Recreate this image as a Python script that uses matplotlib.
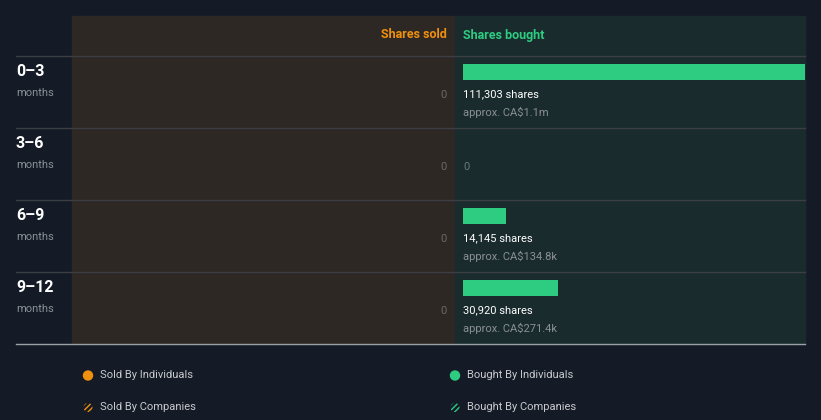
import matplotlib.pyplot as plt
import matplotlib.patches as mpatches

plt.rcParams['font.family'] = ['Roboto', 'DejaVu Sans']

# Insider trading by period
periods = ["0–3", "3–6", "6–9", "9–12"]
shares_sold = [0, 0, 0, 0]
shares_bought = [111303, 0, 14145, 30920]
bought_value = ["approx. CA$1.1m", "", "approx. CA$134.8k", "approx. CA$271.4k"]

bg = '#151b26'
sold_bg = '#2d2823'
bought_bg = '#1a2b2e'
orange = '#f0900f'
green = '#2ecc81'
grey = '#8a8f96'

fig = plt.figure(figsize=(8.21, 4.2), dpi=100, facecolor=bg)

# layout axes in pixel coordinates
base = fig.add_axes([0, 0, 1, 1])
base.set_xlim(0, 821)
base.set_ylim(420, 0)
base.axis('off')
base.set_facecolor(bg)

base.add_patch(mpatches.Rectangle((72, 16), 383, 328, color=sold_bg, zorder=0))
base.add_patch(mpatches.Rectangle((455, 16), 350, 328, color=bought_bg, zorder=0))
base.text(447, 35, "Shares sold", color=orange, fontsize=9, fontweight='bold',
          ha='right', va='center')
base.text(463, 35, "Shares bought", color=green, fontsize=9, fontweight='bold',
          ha='left', va='center')

row_h = 72
top = 56
for i, p in enumerate(periods):
    y0 = top + i * row_h
    base.plot([16, 805], [y0, y0], color='#3b3f44', lw=1, zorder=1)
    base.text(16, y0 + 15.5, p, color='white', fontsize=11.5, fontweight='bold',
              ha='left', va='center')
    base.text(16, y0 + 37, "months", color=grey, fontsize=8, ha='left', va='center')
    base.text(447, y0 + 38.5, str(shares_sold[i]), color='#6b6a66', fontsize=8,
              ha='right', va='center')
base.plot([16, 805], [344, 344], color='#9aa0a6', lw=1, zorder=1)

# legend
base.add_patch(mpatches.Circle((88, 375.5), 4.5, color=orange))
base.text(100, 375.5, "Sold By Individuals", color='#c8cacd', fontsize=8, va='center')
base.add_patch(mpatches.Circle((455, 375.5), 4.5, color=green))
base.text(467, 375.5, "Bought By Individuals", color='#c8cacd', fontsize=8, va='center')
base.add_patch(mpatches.Circle((88, 407.5), 4.5, facecolor=bg, edgecolor=orange,
                               hatch='//////', lw=0))
base.text(100, 407.5, "Sold By Companies", color='#c8cacd', fontsize=8, va='center')
base.add_patch(mpatches.Circle((455, 407.5), 4.5, facecolor=bg, edgecolor=green,
                               hatch='//////', lw=0))
base.text(467, 407.5, "Bought By Companies", color='#c8cacd', fontsize=8, va='center')

# bought bars
ax = fig.add_axes([463 / 821, 1 - 344 / 420, 342 / 821, 288 / 420])
ax.set_xlim(0, max(shares_bought))
ax.set_ylim(len(periods), 0)
ax.axis('off')
ax.patch.set_alpha(0)
ys = [i + 8 / 72 for i in range(len(periods))]
ax.barh(ys, shares_bought, height=16 / 72, align='edge', color=green)
for i, v in enumerate(shares_bought):
    if v > 0:
        ax.text(0, i + 38.5 / 72, f"{v:,} shares", color='white', fontsize=8,
                ha='left', va='center')
        ax.text(0, i + 56.5 / 72, bought_value[i], color=grey, fontsize=8,
                ha='left', va='center')
    else:
        ax.text(0, i + 38.5 / 72, "0", color='#6b7a78', fontsize=8,
                ha='left', va='center')

fig.savefig('out.png', dpi=100, facecolor=bg)
